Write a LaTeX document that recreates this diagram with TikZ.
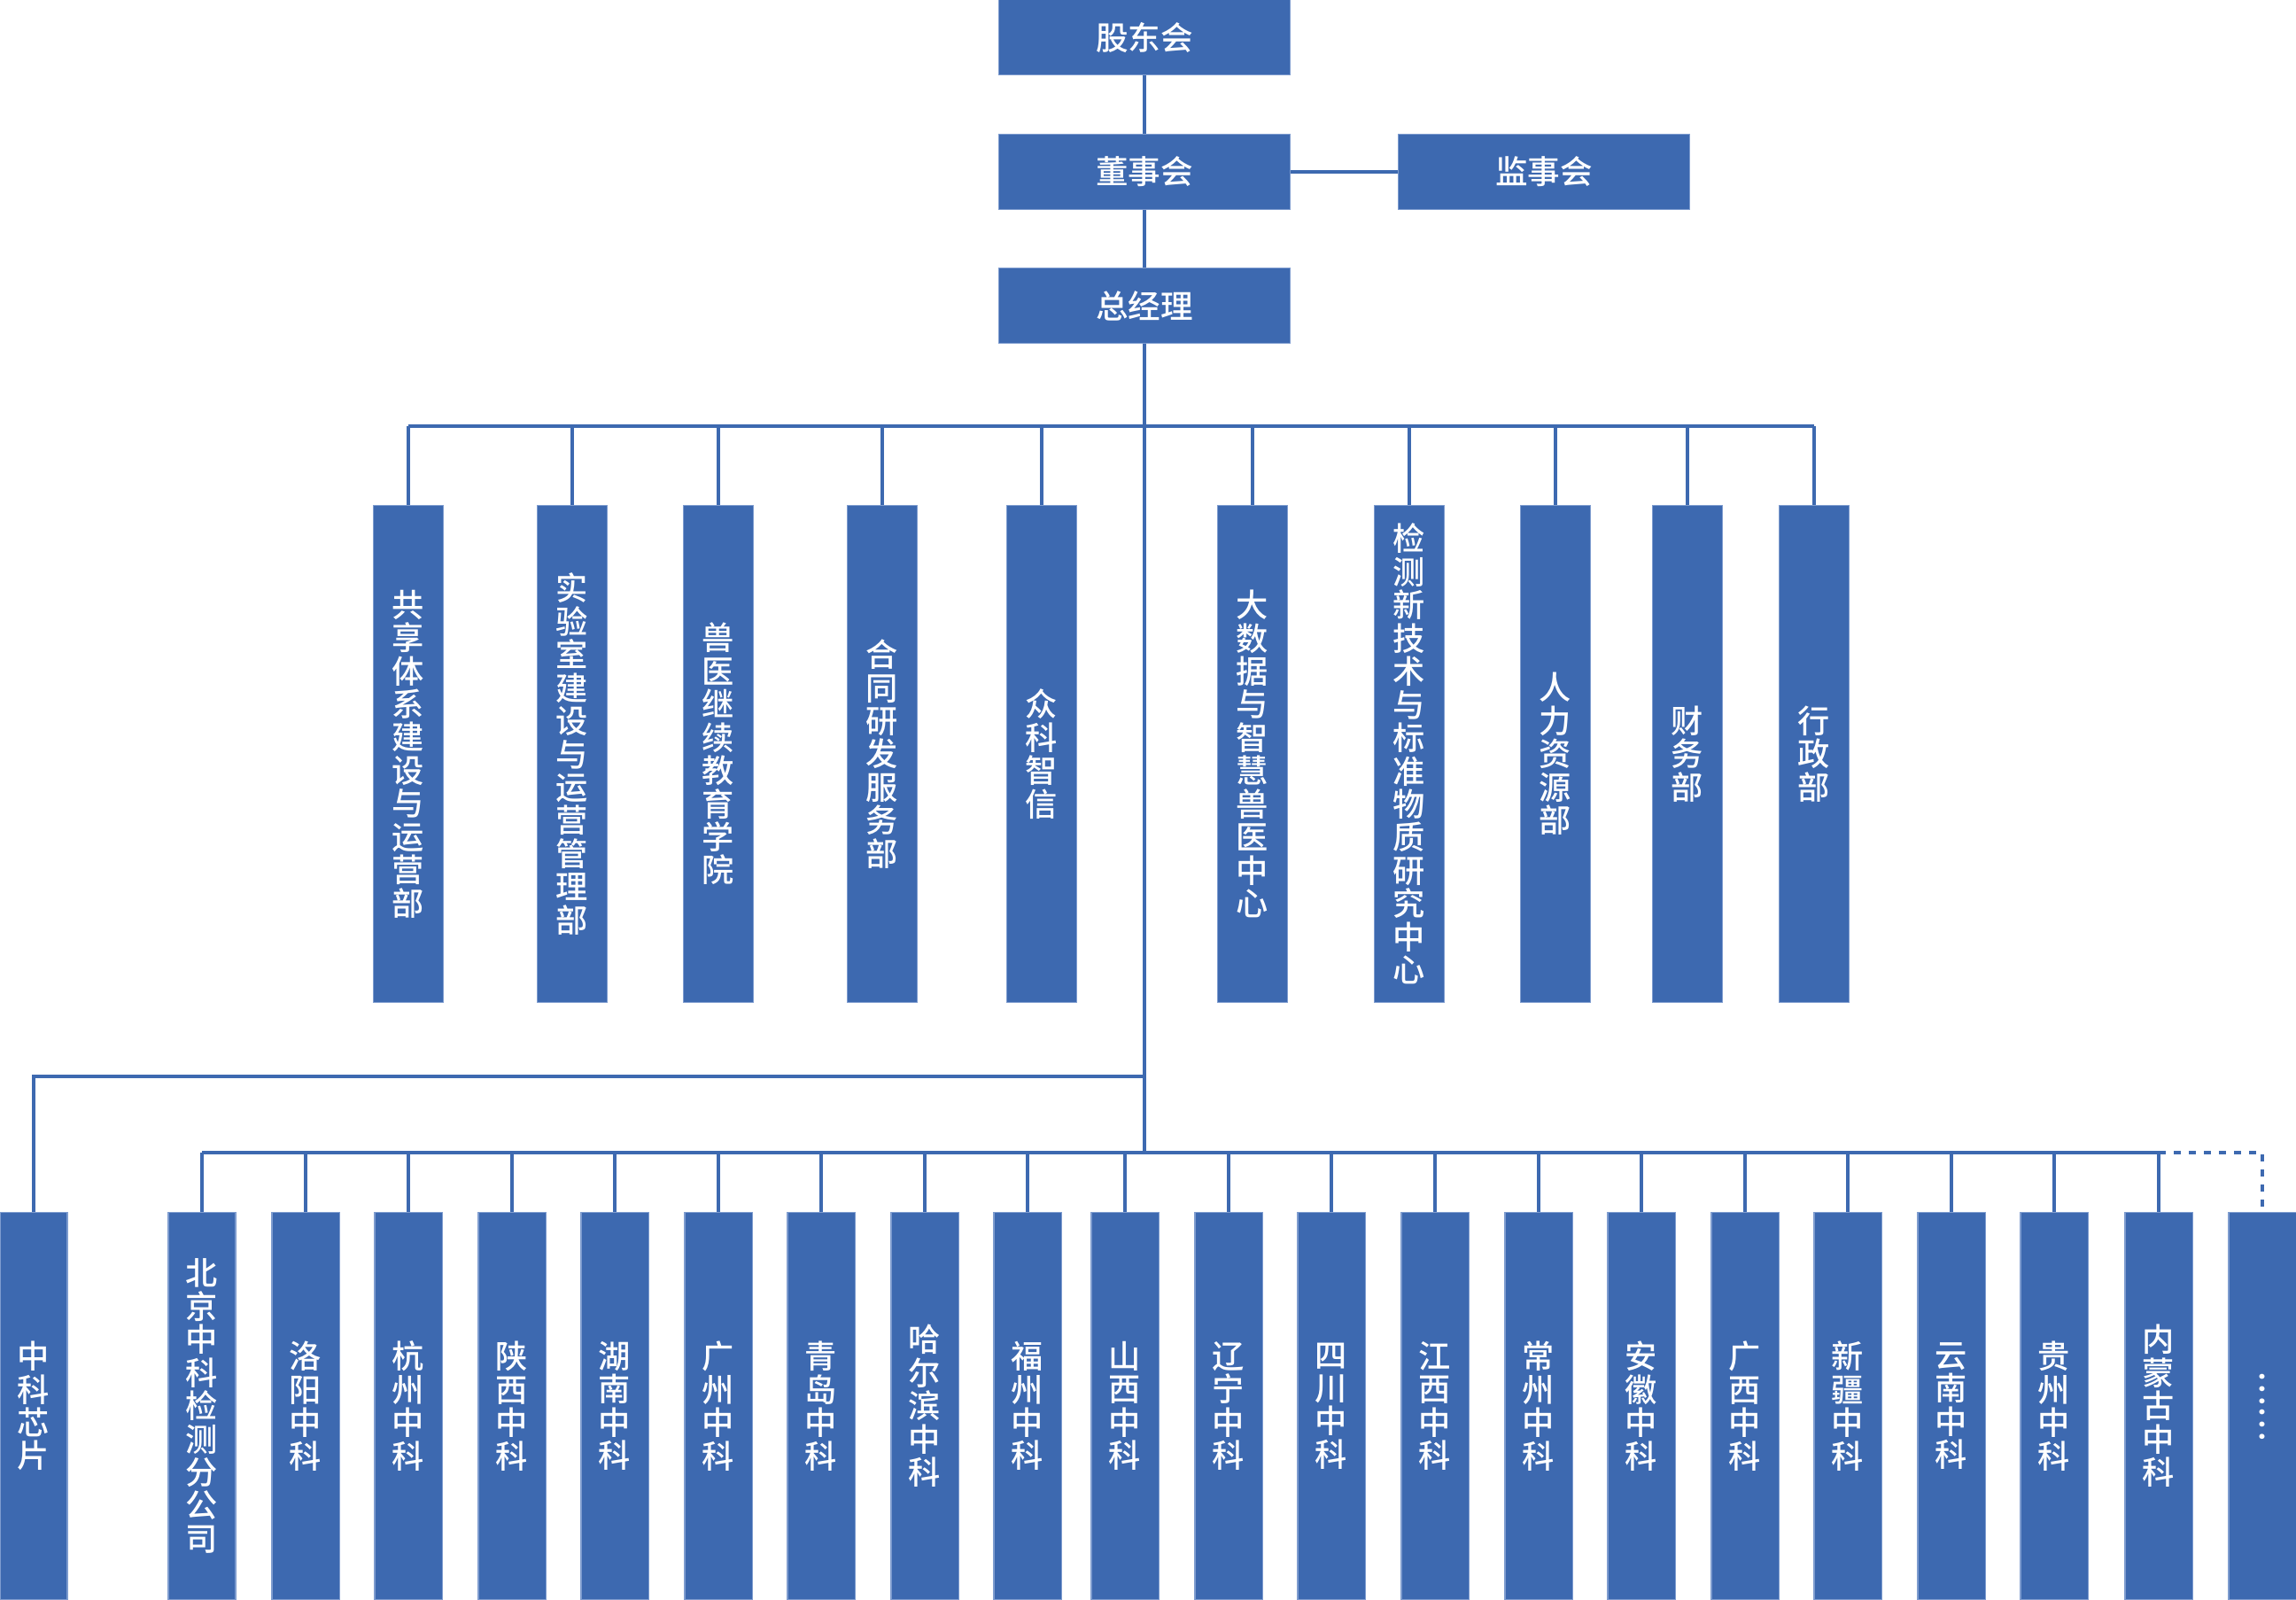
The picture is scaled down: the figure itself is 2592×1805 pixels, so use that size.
\documentclass[tikz,border=0pt]{standalone}
\usepackage{fontspec}
\setmainfont{Noto Sans CJK SC}[BoldFont={* Medium}]
\XeTeXlinebreaklocale "zh"
\XeTeXlinebreakskip=0pt plus 1pt
\usetikzlibrary{positioning}
\definecolor{OrgBlue}{HTML}{3D69B0}
\definecolor{OrgEdge}{HTML}{7E9CCF}

\begin{document}
\begin{tikzpicture}[x=0.01cm,y=-0.01cm,
    orgbox/.style={fill=OrgBlue,draw=OrgEdge,line width=0.3pt,text=white,
      inner sep=0pt,minimum width=3.29cm,minimum height=0.85cm,
      font=\bfseries\fontsize{10.4}{12}\selectfont},
    deptbox/.style={orgbox,minimum width=0.79cm,minimum height=5.61cm,
      text width=0.45cm,align=center,
      font=\bfseries\fontsize{10.3}{10.65}\selectfont},
    branchbox/.style={deptbox,minimum width=0.76cm,minimum height=4.36cm},
    orgline/.style={OrgBlue,line width=0.9pt}]
        \useasboundingbox (0,0) rectangle (2592,1805);

        % top of the chart
        \node[orgbox] (gudong) at (1292,42) {股东会};
        \node[orgbox] (dongshi) at (1292,194) {董事会};
        \node[orgbox] (jianshi) at (1743,194) {监事会};
        \node[orgbox] (zongjl) at (1292,345) {总经理};

        % departments
        \node[deptbox] (d1) at (461,851) {共享体系建设与运营部};
        \node[deptbox] (d2) at (646,851) {实验室建设与运营管理部};
        \node[deptbox] (d3) at (811,851) {兽医继续教育学院};
        \node[deptbox] (d4) at (996,851) {合同研发服务部};
        \node[deptbox] (d5) at (1176,851) {众科智信};
        \node[deptbox] (d6) at (1414,851) {大数据与智慧兽医中心};
        \node[deptbox] (d7) at (1591,851) {检测新技术与标准物质研究中心};
        \node[deptbox] (d8) at (1756,851) {人力资源部};
        \node[deptbox] (d9) at (1905,851) {财务部};
        \node[deptbox] (d10) at (2048,851) {行政部};

        % branches
        \node[branchbox] (xinpian) at (38,1587) {中科芯片};
        \node[branchbox] (b1) at (228,1587) {北京中科检测分公司};
        \node[branchbox] (b2) at (345,1587) {洛阳中科};
        \node[branchbox] (b3) at (461,1587) {杭州中科};
        \node[branchbox] (b4) at (578,1587) {陕西中科};
        \node[branchbox] (b5) at (694,1587) {湖南中科};
        \node[branchbox] (b6) at (811,1587) {广州中科};
        \node[branchbox] (b7) at (927,1587) {青岛中科};
        \node[branchbox] (b8) at (1044,1587) {哈尔滨中科};
        \node[branchbox] (b9) at (1160,1587) {福州中科};
        \node[branchbox] (b10) at (1270,1587) {山西中科};
        \node[branchbox] (b11) at (1387,1587) {辽宁中科};
        \node[branchbox] (b12) at (1503,1587) {四川中科};
        \node[branchbox] (b13) at (1620,1587) {江西中科};
        \node[branchbox] (b14) at (1737,1587) {常州中科};
        \node[branchbox] (b15) at (1853,1587) {安徽中科};
        \node[branchbox] (b16) at (1970,1587) {广西中科};
        \node[branchbox] (b17) at (2086,1587) {新疆中科};
        \node[branchbox] (b18) at (2203,1587) {云南中科};
        \node[branchbox] (b19) at (2319,1587) {贵州中科};
        \node[branchbox] (b20) at (2437,1587) {内蒙古中科};
        \node[branchbox] (more) at (2554,1587) {};
        \node[text=white,rotate=-90,font=\bfseries\fontsize{10.5}{12}\selectfont]
          (moredots) at (more.center) {……};

        \coordinate (busTop) at (1292,481);
        \coordinate (busMid) at (1292,1215);
        \coordinate (busLow) at (1292,1301);

        \draw[orgline] (gudong) -- (dongshi);
        \draw[orgline] (dongshi) -- (zongjl);
        \draw[orgline] (dongshi) -- (jianshi);
        \draw[orgline] (zongjl) -- (busLow);

        \draw[orgline] (d1.north |- busTop) -- (d10.north |- busTop);
        \foreach \d in {d1,d2,d3,d4,d5,d6,d7,d8,d9,d10}
          \draw[orgline] (\d.north |- busTop) -- (\d.north);

        \draw[orgline] (busMid) -| (xinpian.north);
        \draw[orgline] (b1.north |- busLow) -- (b20.north |- busLow);
        \foreach \b in {b1,b2,b3,b4,b5,b6,b7,b8,b9,b10,
                        b11,b12,b13,b14,b15,b16,b17,b18,b19,b20}
          \draw[orgline] (\b.north |- busLow) -- (\b.north);
        \draw[orgline,dash pattern=on 0.08cm off 0.09cm]
          (b20.north |- busLow) -| (more.north);
      \end{tikzpicture}
\end{document}
